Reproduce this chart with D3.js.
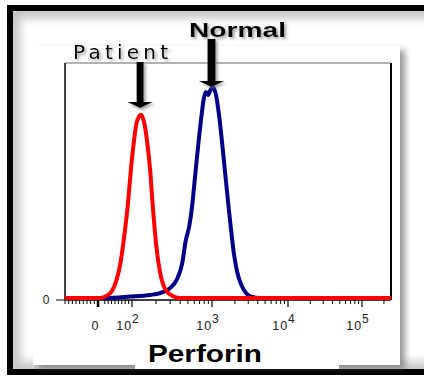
<!DOCTYPE html>
<html>
<head>
<meta charset="utf-8">
<script src="https://cdn.jsdelivr.net/npm/d3@7"></script>
<style>
  html, body { margin: 0; padding: 0; background: #fff; }
  svg { display: block; }
</style>
</head>
<body>
<svg id="chart" width="424" height="376"></svg>
<script>
// ─── Data: perforin histograms (intensity, % of max count) ────────
const patientIntensity = [-90, 6, 26, 41, 53, 65, 76, 88, 97, 106, 115, 130, 141, 154, 168, 183, 200, 224, 258, 316, 398, 250000];
const patientCount     = [0, 0, 1, 3, 7, 14, 25, 40, 55, 67, 75, 78, 75, 67, 55, 38, 23, 11, 4, 1, 0, 0];

const normalIntensity = [-90, 21, 94, 168, 224, 299, 365, 422, 473, 516, 562, 613, 668, 729, 794, 841, 891, 944, 1031,
                         1129, 1236, 1354, 1483, 1624, 1778, 1948, 2133, 2408, 2800, 3357, 4283, 250000];
const normalCount     = [0, 0, 0.6, 1.3, 2.1, 4.2, 8, 14.4, 25, 30, 38.6, 51.3, 64, 75.8, 85.2, 87.7, 86.4, 88.1, 89.8,
                         86.4, 78, 66.5, 53.8, 41.1, 29.2, 18.6, 11.4, 5.9, 2.1, 0.4, 0, 0];

const decadeValues    = [100, 1000, 10000, 100000];
const decadeExponents = ['2', '3', '4', '5'];
const yTickValues     = [0];
const xMin = -90, xMax = 250000;

// ─── Layout ──────────────────────────────────────────────────────
const PLOT = { left: 65, right: 391, top: 63, bottom: 298 };
const svg = d3.select('#chart');
const defs = svg.append('defs');

// linear below 100, log10 above (smooth join, like a hyperlog display)
const T = v => v >= 100 ? Math.log10(v) : 2 + (v - 100) / (100 * Math.LN10);

const x = d3.scaleLinear()
  .domain([T(xMin), T(0), 2, 3, 4, 5, T(xMax)])
  .range([PLOT.left, 98, 132, 212, 288, 362, PLOT.right]);
const y = d3.scaleLinear().domain([0, 100]).range([PLOT.bottom, PLOT.top]);

// ─── Filters ─────────────────────────────────────────────────────
const shadow = defs.append('filter').attr('id', 'shadow')
  .attr('x', '-20%').attr('y', '-20%').attr('width', '150%').attr('height', '150%');
shadow.append('feDropShadow').attr('dx', 2).attr('dy', 2)
  .attr('stdDeviation', 1.5).attr('flood-color', '#777').attr('flood-opacity', 0.7);

const cardShadow = defs.append('filter').attr('id', 'card-shadow')
  .attr('x', '-10%').attr('y', '-10%').attr('width', '125%').attr('height', '125%');
cardShadow.append('feDropShadow').attr('dx', 5).attr('dy', 4)
  .attr('stdDeviation', 3).attr('flood-color', '#555').attr('flood-opacity', 0.6);

const blur = defs.append('filter').attr('id', 'blur');
blur.append('feGaussianBlur').attr('stdDeviation', 5);

defs.append('clipPath').attr('id', 'frame-clip')
  .append('rect').attr('x', 13).attr('y', 11).attr('width', 420).attr('height', 358);

// ─── Frame with inner shading ────────────────────────────────────
svg.append('rect').attr('width', 424).attr('height', 376).attr('fill', '#fff');
svg.append('g').attr('clip-path', 'url(#frame-clip)')
  .append('rect')
  .attr('x', 13).attr('y', 11).attr('width', 430).attr('height', 358)
  .attr('fill', 'none').attr('stroke', '#c4c4c4').attr('stroke-width', 14)
  .attr('filter', 'url(#blur)');
svg.append('rect')
  .attr('x', 10).attr('y', 8).attr('width', 440).attr('height', 364)
  .attr('fill', 'none').attr('stroke', '#000').attr('stroke-width', 6);

// white card holding the plot
svg.append('rect')
  .attr('x', 33).attr('y', 46).attr('width', 367).attr('height', 319)
  .attr('fill', '#fff').attr('filter', 'url(#card-shadow)');
svg.append('rect')
  .attr('x', 135).attr('y', 340).attr('width', 204).attr('height', 29)
  .attr('fill', '#fff');

// ─── Plot box ────────────────────────────────────────────────────
svg.append('line')
  .attr('x1', PLOT.left).attr('x2', PLOT.right).attr('y1', PLOT.top).attr('y2', PLOT.top)
  .attr('stroke', '#666').attr('stroke-width', 1);
svg.append('line')
  .attr('x1', PLOT.right).attr('x2', PLOT.right).attr('y1', PLOT.top).attr('y2', 300)
  .attr('stroke', '#000').attr('stroke-width', 2);
svg.append('line')
  .attr('x1', PLOT.left).attr('x2', PLOT.left).attr('y1', PLOT.top).attr('y2', 300)
  .attr('stroke', '#000').attr('stroke-width', 1.5);
svg.append('line')
  .attr('x1', PLOT.left).attr('x2', PLOT.right).attr('y1', 300).attr('y2', 300)
  .attr('stroke', '#000').attr('stroke-width', 1.5);

// y tick
const yAxis = svg.append('g');
yTickValues.forEach(v => {
  yAxis.append('line')
    .attr('x1', 56).attr('x2', PLOT.left).attr('y1', y(v) + 2).attr('y2', y(v) + 2)
    .attr('stroke', '#000').attr('stroke-width', 1);
  yAxis.append('text')
    .attr('x', 46).attr('y', y(v) + 2).attr('dy', '0.35em')
    .attr('text-anchor', 'middle')
    .attr('font-family', 'Liberation Sans, Arial, sans-serif').attr('font-size', 12)
    .attr('fill', '#222').text(v);
});

// x ticks: minor ticks across the display, majors at 0 and decades
const minorTicks = [];
for (let k = 1; k <= 9; k++) minorTicks.push(-k * 10);
for (let k = 2; k <= 9; k++) minorTicks.push(k * 10);
for (let d = 2; d <= 5; d++) {
  for (let k = 2; k <= 9; k++) {
    const v = k * Math.pow(10, d);
    if (v <= xMax) minorTicks.push(v);
  }
}
const xAxis = svg.append('g');
xAxis.selectAll('.minor')
  .data(minorTicks)
  .enter().append('line')
  .attr('x1', d => x(T(d))).attr('x2', d => x(T(d)))
  .attr('y1', 300).attr('y2', 304)
  .attr('stroke', '#000').attr('stroke-width', 1);
xAxis.selectAll('.major')
  .data([0].concat(decadeValues))
  .enter().append('line')
  .attr('x1', d => x(T(d))).attr('x2', d => x(T(d)))
  .attr('y1', 300).attr('y2', 307)
  .attr('stroke', '#000').attr('stroke-width', d => d === 0 ? 2.5 : 1.2);

// x tick labels
const labelFont = 'Liberation Sans, Arial, sans-serif';
xAxis.append('text')
  .attr('x', x(T(0)) - 3).attr('y', 330)
  .attr('text-anchor', 'middle')
  .attr('font-family', labelFont).attr('font-size', 12.5).attr('fill', '#222')
  .text('0');
decadeValues.forEach((v, i) => {
  const t = xAxis.append('text')
    .attr('x', x(T(v)) - 4).attr('y', 330)
    .attr('text-anchor', 'middle')
    .attr('font-family', labelFont).attr('font-size', 12.5).attr('fill', '#222')
    .attr('letter-spacing', 1);
  t.append('tspan').text('10');
  t.append('tspan').attr('dy', -7).attr('font-size', 12).text(decadeExponents[i]);
});

// axis title
svg.append('text')
  .attr('x', 148).attr('y', 362)
  .attr('font-family', labelFont).attr('font-weight', 'bold').attr('font-size', 23)
  .attr('fill', '#000')
  .attr('textLength', 114).attr('lengthAdjust', 'spacingAndGlyphs')
  .text('Perforin');

// ─── Histograms ──────────────────────────────────────────────────
const line = d3.line()
  .x(d => x(T(d[0])))
  .y(d => y(d[1]))
  .curve(d3.curveMonotoneX);

const normalData  = d3.zip(normalIntensity, normalCount);
const patientData = d3.zip(patientIntensity, patientCount);

svg.append('path')
  .datum(normalData)
  .attr('d', line)
  .attr('fill', 'none').attr('stroke', '#000088').attr('stroke-width', 4)
  .attr('stroke-linejoin', 'round');
svg.append('path')
  .datum(patientData)
  .attr('d', line)
  .attr('fill', 'none').attr('stroke', '#ff0000').attr('stroke-width', 4)
  .attr('stroke-linejoin', 'round');

// ─── Arrows + labels ─────────────────────────────────────────────
function arrow(cx, top, tip, shaftW, headW, headH) {
  const s = shaftW / 2, h = headW / 2, base = tip - headH;
  return `M${cx - s},${top} L${cx + s},${top} L${cx + s},${base} L${cx + h},${base}
          L${cx},${tip} L${cx - h},${base} L${cx - s},${base} Z`;
}
const patientPeak = patientIntensity[d3.maxIndex(patientCount)];
const normalPeak  = normalIntensity[d3.maxIndex(normalCount)];

const notes = svg.append('g').attr('filter', 'url(#shadow)');
notes.append('path')
  .attr('d', arrow(x(T(patientPeak)) - 1, 62, 108, 7, 25, 6))
  .attr('fill', '#000');
notes.append('path')
  .attr('d', arrow(x(T(normalPeak)) - 1.5, 39, 87, 8, 25, 6))
  .attr('fill', '#000');

notes.append('text')
  .attr('x', 73).attr('y', 59)
  .attr('font-family', 'DejaVu Sans, Verdana, sans-serif').attr('font-size', 20)
  .attr('fill', '#000')
  .attr('textLength', 95).attr('lengthAdjust', 'spacing')
  .text('Patient');
notes.append('text')
  .attr('x', 189).attr('y', 37)
  .attr('font-family', labelFont).attr('font-weight', 'bold').attr('font-size', 19.5)
  .attr('fill', '#000')
  .attr('textLength', 97).attr('lengthAdjust', 'spacingAndGlyphs')
  .text('Normal');
</script>
</body>
</html>
